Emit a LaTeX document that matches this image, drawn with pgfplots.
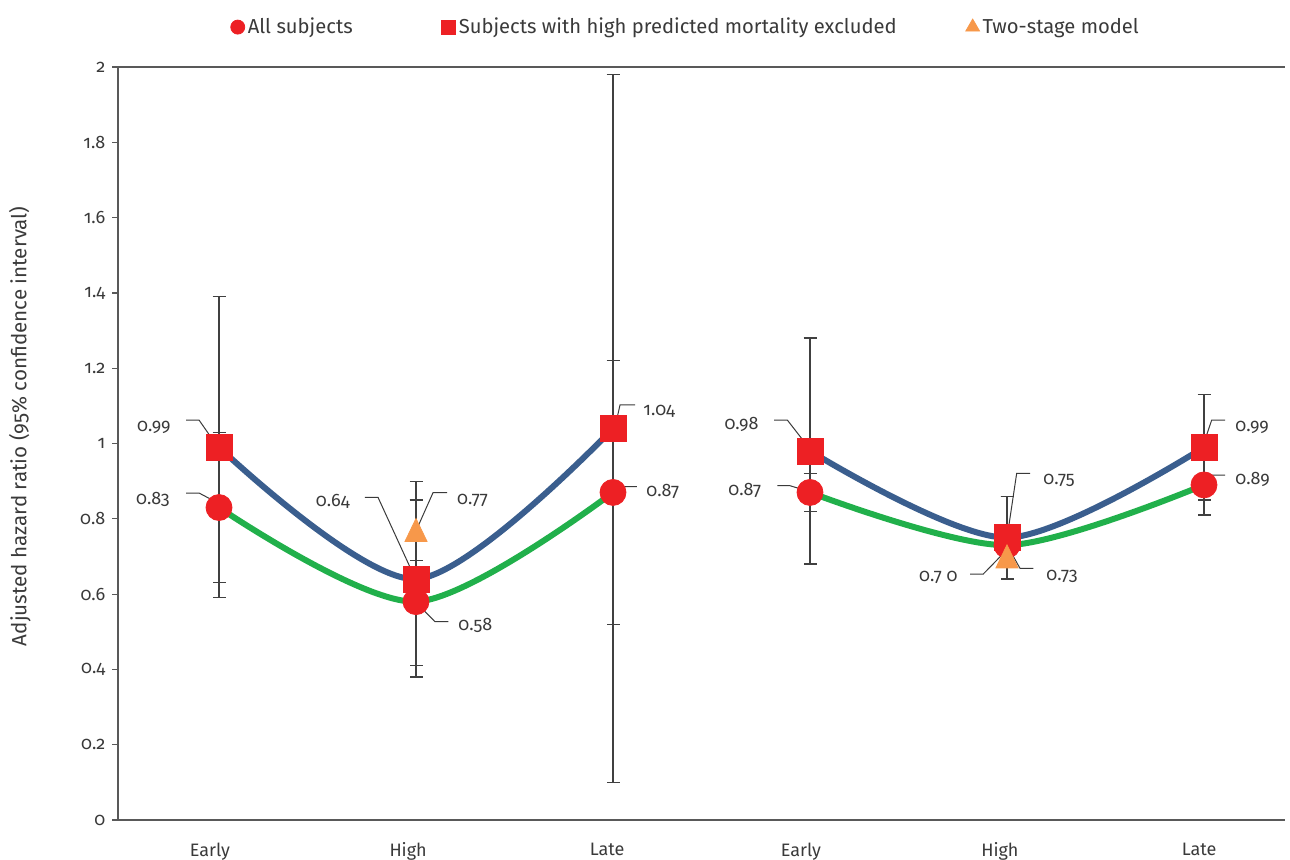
\documentclass[border=0pt]{standalone}
\usepackage{pgfplots}
\pgfplotsset{compat=1.18}
\usepackage{fontspec}
\setmainfont{Fira Sans}[Numbers=OldStyle]
\definecolor{myred}{HTML}{ED2024}
\definecolor{myblue}{HTML}{3A5E8E}
\definecolor{mygreen}{HTML}{21B04B}
\definecolor{myorange}{HTML}{F7984A}
\definecolor{errgray}{HTML}{404040}
\definecolor{axisgray}{HTML}{595959}
\definecolor{textgray}{HTML}{3A3A3A}
\begin{document}
\begin{tikzpicture}
\useasboundingbox (0,0) rectangle (645pt,429.5pt);
\begin{axis}[
  at={(59pt,19.5pt)}, anchor=south west,
  scale only axis, width=583.5pt, height=376.5pt,
  xmin=-0.5127, xmax=5.4112, ymin=0, ymax=2,
  clip=false,
  axis line style={draw=none},
  ytick={0,0.2,0.4,0.6,0.8,1,1.2,1.4,1.6,1.8,2},
  ytick pos=left,
  xtick={-0.046,0.96,1.97,2.954,3.964,4.975},
  xticklabels={Early,High,Late,Early,High,Late},
  xtick style={draw=none},
  ytick style={draw=axisgray, line width=0.6pt},
  tick align=outside, major tick length=2.8pt,
  /pgf/number format/assume math mode=true,
  tick label style={font=\fontsize{9}{10}\selectfont, text=textgray},
  yticklabel style={anchor=east},
  xticklabel style={anchor=north, yshift=-5pt},
  ylabel={Adjusted hazard ratio (95\% confidence interval)},
  ylabel style={at={(rel axis cs:-0.084,0.523)}, anchor=center, font=\fontsize{10.3}{12}\selectfont, text=textgray},
  legend columns=3,
  legend image code/.code={\draw[#1] plot coordinates {(0pt,0pt)};},
  legend style={at={(0.487,1.053)}, anchor=center, draw=none, fill=none,
    font=\fontsize{10.1}{12}\selectfont, text=textgray,
    nodes={inner sep=1.5pt},
    /tikz/column 2/.style={column sep=43pt},
    /tikz/column 4/.style={column sep=33pt}},
  error bars/error bar style={color=errgray, line width=0.6pt},
  error bars/error mark options={rotate=90, draw=errgray, color=errgray, line width=0.6pt, mark size=3.25pt},
]
% error bars (drawn first, behind markers)
\addplot[forget plot, draw=none, mark=none, error bars/.cd, y dir=both, y explicit]
 coordinates {
 (0,0.83) += (0,0.20) -= (0,0.20)
 (1,0.58) += (0,0.27) -= (0,0.17)
 (2,0.87) += (0,0.35) -= (0,0.77)
 (3,0.87) += (0,0.05) -= (0,0.05)
 (4,0.73) += (0,0.13) -= (0,0.09)
 (5,0.89) += (0,0.08) -= (0,0.08)
 };
\addplot[forget plot, draw=none, mark=none, error bars/.cd, y dir=both, y explicit]
 coordinates {
 (0,0.99) += (0,0.40) -= (0,0.40)
 (1,0.64) += (0,0.26) -= (0,0.26)
 (2,1.04) += (0,0.94) -= (0,0.52)
 (3,0.98) += (0,0.30) -= (0,0.30)
 (4,0.75) += (0,0.11) -= (0,0.11)
 (5,0.99) += (0,0.14) -= (0,0.14)
 };
\addplot[forget plot, draw=none, mark=none, error bars/.cd, y dir=both, y explicit]
 coordinates {
 (1,0.77) += (0,0.08) -= (0,0.08)
 (4,0.70) += (0,0.16) -= (0,0.06)
 };
% markers
\addplot[forget plot, only marks, mark=*, mark size=6.5pt, color=myred]
 coordinates {(0,0.83)(1,0.58)(2,0.87)(3,0.87)(4,0.73)(5,0.89)};
\addplot[forget plot, only marks, mark=square*, mark size=6.5pt, color=myred]
 coordinates {(0,0.99)(1,0.64)(2,1.04)(3,0.98)(4,0.75)(5,0.99)};
\addplot[forget plot, only marks, mark=triangle*, mark size=6.4pt, color=myorange,
  mark options={yshift=-1.9pt, yscale=1.2}]
 coordinates {(1,0.77)(4,0.70)};
% smooth curves
\addplot[forget plot, smooth, line width=3pt, color=myblue] coordinates {(0,0.99)(1,0.64)(2,1.04)};
\addplot[forget plot, smooth, line width=3pt, color=myblue] coordinates {(3,0.98)(4,0.75)(5,0.99)};
\addplot[forget plot, smooth, line width=3pt, color=mygreen] coordinates {(0,0.83)(1,0.58)(2,0.87)};
\addplot[forget plot, smooth, line width=3pt, color=mygreen] coordinates {(3,0.87)(4,0.73)(5,0.89)};
% axis lines
\draw[axisgray, line width=0.65pt] (rel axis cs:0,0) -- (rel axis cs:0,1) -- (rel axis cs:1,1);
\draw[axisgray, line width=0.9pt] ([xshift=-2.8pt]rel axis cs:0,0) -- (rel axis cs:1,0);
% leader lines and data labels
\tikzset{leader/.style={draw=textgray, line width=0.5pt},
  lab/.style={font=\fontsize{9}{10}\selectfont, text=textgray, inner sep=0pt}}
\draw[leader] (axis cs:-0.1675,1.0624) -- (axis cs:-0.1015,1.0624) -- (axis cs:-0.0203,1.0013);
\node[lab, anchor=mid east] at (axis cs:-0.2437,1.0446) {0.99};
\draw[leader] (axis cs:-0.1675,0.8685) -- (axis cs:-0.1015,0.8685) -- (axis cs:-0.0051,0.8420);
\node[lab, anchor=mid east] at (axis cs:-0.2487,0.8526) {0.83};
\draw[leader] (axis cs:0.7411,0.8571) -- (axis cs:0.8071,0.8571) -- (axis cs:0.9949,0.6428);
\node[lab, anchor=mid east] at (axis cs:0.6650,0.8454) {0.64};
\draw[leader] (axis cs:1.1574,0.8693) -- (axis cs:1.0863,0.8693) -- (axis cs:1.0036,0.7721);
\node[lab, anchor=mid west] at (axis cs:1.2066,0.8518) {0.77};
\draw[leader] (axis cs:1.0036,0.5756) -- (axis cs:1.0964,0.5267) -- (axis cs:1.1640,0.5267);
\node[lab, anchor=mid west] at (axis cs:1.2132,0.5179) {0.58};
\draw[leader] (axis cs:2.1117,1.1023) -- (axis cs:2.0355,1.1023) -- (axis cs:2.0102,1.0430);
\node[lab, anchor=mid west] at (axis cs:2.1523,1.0871) {1.04};
\draw[leader] (axis cs:2.1218,0.8858) -- (axis cs:2.0508,0.8858) -- (axis cs:1.9934,0.8669);
\node[lab, anchor=mid west] at (axis cs:2.1675,0.8730) {0.87};
\draw[leader] (axis cs:2.8173,1.0624) -- (axis cs:2.8848,1.0624) -- (axis cs:2.9964,0.9873);
\node[lab, anchor=mid east] at (axis cs:2.7411,1.0518) {0.98};
\draw[leader] (axis cs:2.8340,0.8879) -- (axis cs:2.8985,0.8879) -- (axis cs:3.0152,0.8693);
\node[lab, anchor=mid east] at (axis cs:2.7548,0.8765) {0.87};
\draw[leader] (axis cs:4.1168,0.9209) -- (axis cs:4.0492,0.9209) -- (axis cs:3.9985,0.7437);
\node[lab, anchor=mid west] at (axis cs:4.1827,0.9049) {0.75};
\draw[leader] (axis cs:3.8122,0.6534) -- (axis cs:3.8797,0.6534) -- (axis cs:3.9985,0.7171);
\node[lab, anchor=mid east] at (axis cs:3.7513,0.6462) {0.7 0};
\draw[leader] (axis cs:4.0000,0.7304) -- (axis cs:4.0660,0.6685) -- (axis cs:4.1335,0.6685);
\node[lab, anchor=mid west] at (axis cs:4.1980,0.6507) {0.73};
\draw[leader] (axis cs:5.1066,1.0624) -- (axis cs:5.0391,1.0624) -- (axis cs:4.9964,0.9960);
\node[lab, anchor=mid west] at (axis cs:5.1574,1.0446) {0.99};
\draw[leader] (axis cs:5.1066,0.9163) -- (axis cs:5.0305,0.9163) -- (axis cs:5.0051,0.8985);
\node[lab, anchor=mid west] at (axis cs:5.1574,0.9049) {0.89};
% legend
\addlegendimage{only marks, mark=*, mark size=3.5pt, color=myred}
\addlegendentry{All subjects}
\addlegendimage{only marks, mark=square*, mark size=3.5pt, color=myred}
\addlegendentry{Subjects with high predicted mortality excluded}
\addlegendimage{only marks, mark=triangle*, mark size=4pt, color=myorange}
\addlegendentry{Two-stage model}
\end{axis}
\end{tikzpicture}
\end{document}
